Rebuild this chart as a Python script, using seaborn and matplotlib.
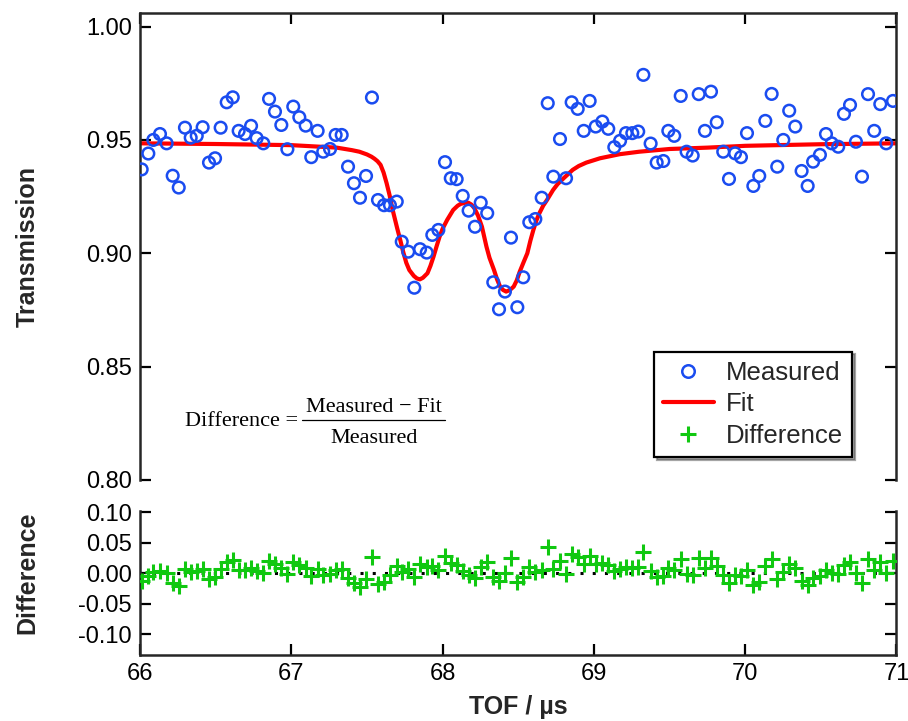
import numpy as np
import pandas as pd
import matplotlib
matplotlib.use('Agg')
import matplotlib.pyplot as plt
import seaborn as sns
from matplotlib.lines import Line2D

# ---------------- data ----------------
tof = [66.011, 66.055, 66.088, 66.132, 66.176, 66.216, 66.256, 66.297, 66.335, 66.375,
       66.414, 66.456, 66.496, 66.533, 66.573, 66.613, 66.652, 66.694, 66.734, 66.771,
       66.815, 66.853, 66.892, 66.934, 66.974, 67.013, 67.053, 67.095, 67.132, 67.174,
       67.211, 67.256, 67.293, 67.333, 67.375, 67.414, 67.454, 67.494, 67.533, 67.573,
       67.613, 67.652, 67.697, 67.730, 67.773, 67.813, 67.851, 67.895, 67.932, 67.972,
       68.016, 68.054, 68.093, 68.133, 68.172, 68.214, 68.252, 68.295, 68.335, 68.373,
       68.412, 68.452, 68.494, 68.533, 68.573, 68.613, 68.655, 68.695, 68.732, 68.776,
       68.816, 68.853, 68.893, 68.933, 68.972, 69.012, 69.056, 69.095, 69.135, 69.173,
       69.212, 69.254, 69.293, 69.327, 69.375, 69.415, 69.459, 69.492, 69.531, 69.574,
       69.613, 69.653, 69.693, 69.734, 69.774, 69.812, 69.855, 69.893, 69.933, 69.972,
       70.012, 70.054, 70.093, 70.133, 70.175, 70.212, 70.252, 70.291, 70.331, 70.373,
       70.413, 70.449, 70.494, 70.534, 70.572, 70.615, 70.653, 70.693, 70.732, 70.772,
       70.812, 70.853, 70.893, 70.932, 70.977]

measured = [0.937, 0.944, 0.950, 0.9526, 0.9485, 0.9342, 0.929, 0.9554, 0.951, 0.9518,
            0.9556, 0.940, 0.9419, 0.9554, 0.9666, 0.9688, 0.954, 0.9526, 0.9562, 0.9508,
            0.9485, 0.9681, 0.9625, 0.9566, 0.9459, 0.9647, 0.960, 0.9563, 0.9424, 0.954,
            0.9448, 0.946, 0.9522, 0.9522, 0.9382, 0.9309, 0.9245, 0.9341, 0.9687, 0.9235,
            0.9212, 0.9212, 0.9228, 0.9051, 0.9007, 0.8848, 0.9018, 0.9003, 0.9081, 0.9103,
            0.9402, 0.9331, 0.9327, 0.9253, 0.9188, 0.9117, 0.9223, 0.9177, 0.8872, 0.8753,
            0.8831, 0.9069, 0.8762, 0.8894, 0.9137, 0.9151, 0.9245, 0.9662, 0.9338, 0.9504,
            0.9331, 0.9666, 0.9637, 0.954, 0.9672, 0.9559, 0.9581, 0.9549, 0.9468, 0.9496,
            0.953, 0.953, 0.9537, 0.9787, 0.9484, 0.940, 0.9407, 0.954, 0.9518, 0.9694,
            0.9448, 0.9431, 0.9702, 0.954, 0.9713, 0.9578, 0.9448, 0.9328, 0.9441, 0.9424,
            0.953, 0.9297, 0.9341, 0.9584, 0.9703, 0.9382, 0.950, 0.9629, 0.9559, 0.9363,
            0.9297, 0.9404, 0.9434, 0.9526, 0.9485, 0.947, 0.9615, 0.9654, 0.9492, 0.9338,
            0.9702, 0.954, 0.9658, 0.9485, 0.9672]

difference = [-0.0123, -0.0048, 0.0016, 0.0043, 0.0003, -0.0153, -0.0209, 0.0071, 0.0028, 0.0036,
              0.0075, -0.0088, -0.0068, 0.0074, 0.0191, 0.0212, 0.0061, 0.0047, 0.0084, 0.0029,
              0.0006, 0.0207, 0.0151, 0.0090, -0.0019, 0.0176, 0.0128, 0.0091, -0.0053, 0.0070,
              -0.0024, -0.0011, 0.0058, 0.0063, -0.0080, -0.0154, -0.0218, -0.0102, 0.0272, -0.0182,
              -0.0150, -0.0033, 0.0117, 0.0023, 0.0072, -0.0056, 0.0147, 0.0103, 0.0122, 0.0047,
              0.0289, 0.0165, 0.0131, 0.0036, -0.0037, -0.0086, 0.0101, 0.0177, -0.0061, -0.0125,
              -0.0003, 0.0247, -0.0146, -0.0069, 0.0106, 0.0028, 0.0057, 0.0435, 0.0063, 0.0200,
              -0.0011, 0.0312, 0.0266, 0.0152, 0.0276, 0.0153, 0.0167, 0.0128, 0.0038, 0.0062,
              0.0094, 0.0090, 0.0094, 0.0345, 0.0034, -0.0057, -0.0053, 0.0085, 0.0061, 0.0240,
              -0.0015, -0.0034, 0.0245, 0.0079, 0.0256, 0.0116, -0.0022, -0.0153, -0.0033, -0.0052,
              0.0059, -0.0191, -0.0143, 0.0113, 0.0234, -0.0101, 0.0024, 0.0157, 0.0085, -0.0123,
              -0.0196, -0.0080, -0.0049, 0.0048, 0.0004, -0.0012, 0.0138, 0.0178, 0.0009, -0.0155,
              0.0225, 0.0059, 0.0180, 0.0000, 0.0193]

fit_tof = [66.00, 66.50, 67.00, 67.30, 67.40, 67.45, 67.50, 67.53, 67.55, 67.57,
           67.59, 67.61, 67.63, 67.65, 67.67, 67.70, 67.72, 67.74, 67.76, 67.78,
           67.81, 67.83, 67.85, 67.87, 67.90, 67.92, 67.94, 67.96, 67.98, 68.00,
           68.03, 68.07, 68.10, 68.12, 68.15, 68.17, 68.19, 68.21, 68.235, 68.26,
           68.29, 68.31, 68.34, 68.36, 68.38, 68.40, 68.42, 68.445, 68.47, 68.49,
           68.51, 68.535, 68.56, 68.58, 68.60, 68.62, 68.64, 68.665, 68.69, 68.73,
           68.76, 68.80, 68.86, 68.90, 68.95, 69.04, 69.17, 69.30, 69.50, 69.75,
           70.00, 70.50, 71.00]
fit_trans = [0.9485, 0.9482, 0.9477, 0.9466, 0.9455, 0.9448, 0.9436, 0.9426, 0.9417, 0.9406,
             0.9390, 0.9356, 0.9309, 0.9255, 0.9191, 0.9110, 0.9059, 0.9005, 0.8958, 0.8926,
             0.8900, 0.8889, 0.8885, 0.8892, 0.8912, 0.8945, 0.8985, 0.9030, 0.9073, 0.9108,
             0.9147, 0.9191, 0.9210, 0.9218, 0.9223, 0.9223, 0.9215, 0.9199, 0.9165, 0.9117,
             0.9029, 0.8980, 0.8926, 0.8885, 0.8853, 0.8838, 0.8831, 0.8838, 0.8853, 0.8880,
             0.8919, 0.8960, 0.9000, 0.9055, 0.9103, 0.9145, 0.9177, 0.9210, 0.9235, 0.9279,
             0.9305, 0.9331, 0.9368, 0.9385, 0.9400, 0.9419, 0.9437, 0.9448, 0.9460, 0.9466,
             0.9474, 0.9481, 0.9485]

legend_labels = ['Measured', 'Fit', 'Difference']
top_yticks = [0.80, 0.85, 0.90, 0.95, 1.00]
bot_yticks = [-0.10, -0.05, 0.00, 0.05, 0.10]
xticks = [66, 67, 68, 69, 70, 71]

BLUE = '#1A4CF0'
RED = '#FF0000'
GREEN = '#10C810'

# ---------------- style ----------------
sns.set_style('ticks')
plt.rcParams['font.family'] = ['Liberation Sans', 'DejaVu Sans']
plt.rcParams['axes.unicode_minus'] = False

W, H = 908, 721
fig = plt.figure(figsize=(W / 100, H / 100), dpi=100)
ax1 = fig.add_axes([0.1542, 0.3343, 0.8331, 0.6477])
ax2 = fig.add_axes([0.1542, 0.0915, 0.8331, 0.1998])

meas_df = pd.DataFrame({'TOF': tof, 'Transmission': measured})
fit_df = pd.DataFrame({'TOF': fit_tof, 'Transmission': fit_trans})
diff_df = pd.DataFrame({'TOF': tof, 'Difference': difference})

sns.lineplot(data=fit_df, x='TOF', y='Transmission', ax=ax1, color=RED,
             linewidth=3, estimator=None, zorder=2)
sns.scatterplot(data=meas_df, x='TOF', y='Transmission', ax=ax1, marker='o',
                s=70, zorder=3)
coll = ax1.collections[-1]
coll.set_facecolor('none')
coll.set_edgecolor(BLUE)
coll.set_linewidth(1.8)

ax2.axhline(0, color='black', linestyle=(0, (1, 3)), linewidth=2.2, zorder=1)
sns.scatterplot(data=diff_df, x='TOF', y='Difference', ax=ax2, marker='+',
                s=120, color=GREEN, linewidth=2.2, zorder=3)

for ax in (ax1, ax2):
    ax.set_xlim(66, 71)
    ax.set_xticks(xticks)
    for sp in ax.spines.values():
        sp.set_linewidth(1.8)
    ax.tick_params(axis='both', direction='in', length=8, width=1.6,
                   labelsize=17, colors='black', pad=6)

ax1.set_ylim(0.80, 1.006)
ax1.set_yticks(top_yticks)
ax1.set_yticklabels([f'{v:.2f}' for v in top_yticks])
ax1.spines['bottom'].set_visible(False)
ax1.tick_params(axis='x', bottom=False, top=True, labelbottom=False, labeltop=False)
ax1.tick_params(axis='y', left=True, right=True, labelright=False)
ax1.set_xlabel('')
ax1.set_ylabel('Transmission', fontsize=18, fontweight='bold')
ax1.yaxis.set_label_coords(-0.133, 0.5)

ax2.set_ylim(-0.134, 0.102)
ax2.set_yticks(bot_yticks)
ax2.set_yticklabels([f'{v:.2f}' for v in bot_yticks])
ax2.spines['top'].set_visible(False)
ax2.tick_params(axis='x', bottom=True, top=False)
ax2.tick_params(axis='y', left=True, right=True, labelright=False)
ax2.set_ylabel('Difference', fontsize=18, fontweight='bold')
ax2.yaxis.set_label_coords(-0.133, 0.57)
ax2.set_xlabel('TOF / µs', fontsize=18, fontweight='bold', labelpad=7)

# formula annotation (Times-like), placed in figure pixel positions
def fx(px):
    return px / W

def fy(py):
    return 1 - py / H

serif = dict(family=['Liberation Serif', 'DejaVu Serif'], fontsize=16, color='black')
fig.text(fx(185), fy(426.5), 'Difference =', ha='left', va='baseline', **serif)
fig.text(fx(374), fy(411.5), 'Measured \u2212 Fit', ha='center', va='baseline', **serif)
fig.text(fx(374), fy(443.5), 'Measured', ha='center', va='baseline', **serif)
fig.add_artist(Line2D([fx(302), fx(445)], [fy(420), fy(420)],
                      transform=fig.transFigure, color='black', linewidth=0.9))

handles = [Line2D([], [], marker='o', linestyle='none', markerfacecolor='none',
                  markeredgecolor=BLUE, markeredgewidth=1.8, markersize=9),
           Line2D([], [], color=RED, linewidth=3),
           Line2D([], [], marker='+', linestyle='none', color=GREEN,
                  markeredgewidth=2.2, markersize=11)]
leg = ax1.legend(handles, legend_labels, loc='lower right', bbox_to_anchor=(0.941, 0.049),
                 fontsize=18.5, frameon=True, fancybox=False, shadow=True,
                 edgecolor='black', framealpha=1, borderpad=0.35, labelspacing=0.3,
                 handlelength=2.0, handletextpad=0.45, borderaxespad=0)
leg.get_frame().set_linewidth(1.6)

fig.savefig('out.png', dpi=100)
